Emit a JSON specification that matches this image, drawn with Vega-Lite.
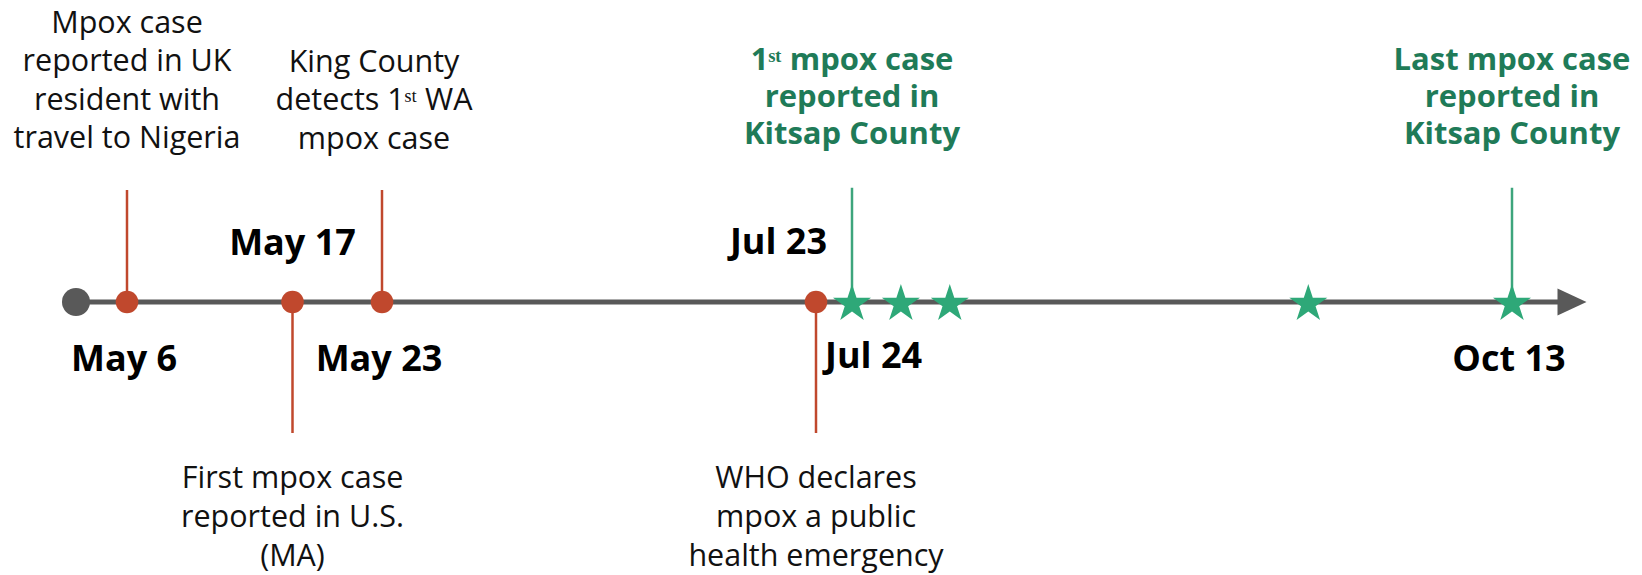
{
  "$schema": "https://vega.github.io/schema/vega-lite/v6.json",
  "width": 1642,
  "height": 575,
  "padding": 0,
  "autosize": {"type": "none"},
  "background": "white",
  "config": {"view": {"stroke": null}, "text": {"font": "Open Sans"}},
  "datasets": {
    "timeline": [
      {"date": "2022-05-01", "part": "start"},
      {"date": "2022-10-21", "part": "end"}
    ],
    "events": [
      {"date": "2022-05-06", "label": "May 6", "side": "above", "group": "world", "event": "Mpox case\nreported in UK\nresident with\ntravel to Nigeria"},
      {"date": "2022-05-17", "label": "May 17", "side": "below", "group": "world", "event": "First mpox case\nreported in U.S.\n(MA)"},
      {"date": "2022-05-23", "label": "May 23", "side": "above", "group": "world", "event": "King County\ndetects 1ˢᵗ WA\nmpox case"},
      {"date": "2022-07-23", "label": "Jul 23", "side": "below", "group": "world", "event": "WHO declares\nmpox a public\nhealth emergency"},
      {"date": "2022-07-24", "label": "Jul 24", "side": "above", "group": "kitsap", "event": "1ˢᵗ mpox case\nreported in\nKitsap County"},
      {"date": "2022-10-13", "label": "Oct 13", "side": "above", "group": "kitsap", "event": "Last mpox case\nreported in\nKitsap County"}
    ],
    "cases": [
      {"date": "2022-07-24"},
      {"date": "2022-07-30"},
      {"date": "2022-08-05"},
      {"date": "2022-09-18"},
      {"date": "2022-10-13"}
    ]
  },
  "encoding": {
    "x": {
      "field": "date",
      "type": "quantitative",
      "axis": null,
      "scale": {
        "type": "linear",
        "zero": false,
        "nice": false,
        "domain": [1651363200000, 1651795200000, 1652745600000, 1653264000000, 1658534400000, 1658620800000, 1665619200000, 1666310400000],
        "range": [76, 127, 292.5, 382, 816, 852, 1512, 1572]
      }
    }
  },
  "layer": [
    {
      "data": {"name": "timeline", "format": {"parse": {"date": "date"}}},
      "mark": {"type": "line", "color": "#595959", "strokeWidth": 5},
      "encoding": {
        "y": {"datum": 0, "type": "quantitative", "axis": null, "scale": {"domain": [-1, 0, 1], "range": [433, 302, 190]}}
      }
    },
    {
      "data": {"name": "events", "format": {"parse": {"date": "date"}}},
      "transform": [{"filter": "datum.side == 'above' && datum.group == 'world'"}],
      "mark": {"type": "rule", "color": "#C0482D", "strokeWidth": 2.5},
      "encoding": {
        "y": {"datum": 0, "type": "quantitative", "axis": null},
        "y2": {"datum": 1}
      }
    },
    {
      "data": {"name": "events", "format": {"parse": {"date": "date"}}},
      "transform": [{"filter": "datum.side == 'below'"}],
      "mark": {"type": "rule", "color": "#C0482D", "strokeWidth": 2.5},
      "encoding": {
        "y": {"datum": 0, "type": "quantitative", "axis": null},
        "y2": {"datum": -1}
      }
    },
    {
      "data": {"name": "events", "format": {"parse": {"date": "date"}}},
      "transform": [{"filter": "datum.group == 'kitsap'"}],
      "mark": {"type": "rule", "color": "#3DA57C", "strokeWidth": 2.5},
      "encoding": {
        "y": {"datum": 0, "type": "quantitative", "axis": null},
        "y2": {"datum": 1.02}
      }
    },
    {
      "data": {"name": "timeline", "format": {"parse": {"date": "date"}}},
      "transform": [{"filter": "datum.part == 'start'"}],
      "mark": {"type": "point", "shape": "circle", "filled": true, "opacity": 1, "color": "#595959", "size": 784},
      "encoding": {"y": {"datum": 0, "type": "quantitative", "axis": null}}
    },
    {
      "data": {"name": "timeline", "format": {"parse": {"date": "date"}}},
      "transform": [{"filter": "datum.part == 'end'"}],
      "mark": {"type": "point", "shape": "M-1,-0.93L1,0L-1,0.93Z", "filled": true, "opacity": 1, "color": "#595959", "size": 841},
      "encoding": {"y": {"datum": 0, "type": "quantitative", "axis": null}}
    },
    {
      "data": {"name": "events", "format": {"parse": {"date": "date"}}},
      "transform": [{"filter": "datum.group == 'world'"}],
      "mark": {"type": "point", "shape": "circle", "filled": true, "opacity": 1, "color": "#C0482D", "size": 510},
      "encoding": {"y": {"datum": 0, "type": "quantitative", "axis": null}}
    },
    {
      "data": {"name": "cases", "format": {"parse": {"date": "date"}}},
      "mark": {"type": "point", "shape": "M0,-0.905L0.225,-0.214L0.951,-0.214L0.363,0.213L0.588,0.904L0,0.477L-0.588,0.904L-0.363,0.213L-0.951,-0.214L-0.225,-0.214Z", "filled": true, "opacity": 1, "color": "#2EA878", "size": 1600},
      "encoding": {"y": {"datum": 0, "type": "quantitative", "axis": null}}
    },
    {
      "data": {"name": "events", "format": {"parse": {"date": "date"}}},
      "transform": [{"filter": "datum.label == 'May 6'"}],
      "mark": {"type": "text", "align": "center", "baseline": "alphabetic", "dy": -157, "fontSize": 30.5, "lineHeight": 38.3, "lineBreak": "\n", "color": "#111111"},
      "encoding": {
        "y": {"datum": 1, "type": "quantitative", "axis": null},
        "text": {"field": "event"}
      }
    },
    {
      "data": {"name": "events", "format": {"parse": {"date": "date"}}},
      "transform": [{"filter": "datum.label == 'May 23'"}],
      "mark": {"type": "text", "align": "center", "baseline": "alphabetic", "dx": -8, "dy": -118, "fontSize": 30.5, "lineHeight": 38.3, "lineBreak": "\n", "color": "#111111"},
      "encoding": {
        "y": {"datum": 1, "type": "quantitative", "axis": null},
        "text": {"field": "event"}
      }
    },
    {
      "data": {"name": "events", "format": {"parse": {"date": "date"}}},
      "transform": [{"filter": "datum.group == 'kitsap'"}],
      "mark": {"type": "text", "align": "center", "baseline": "alphabetic", "dy": -120, "fontSize": 31, "fontWeight": "bold", "lineHeight": 37, "lineBreak": "\n", "color": "#1F7B58"},
      "encoding": {
        "y": {"datum": 1, "type": "quantitative", "axis": null},
        "text": {"field": "event"}
      }
    },
    {
      "data": {"name": "events", "format": {"parse": {"date": "date"}}},
      "transform": [{"filter": "datum.side == 'below'"}],
      "mark": {"type": "text", "align": "center", "baseline": "alphabetic", "dy": 55, "fontSize": 30.5, "lineHeight": 39, "lineBreak": "\n", "color": "#111111"},
      "encoding": {
        "y": {"datum": -1, "type": "quantitative", "axis": null},
        "text": {"field": "event"}
      }
    },
    {
      "data": {"name": "events", "format": {"parse": {"date": "date"}}},
      "transform": [{"filter": "datum.side == 'above' && datum.label != 'Jul 24'"}],
      "mark": {"type": "text", "align": "center", "baseline": "alphabetic", "dx": -3, "dy": 69, "fontSize": 36, "fontWeight": "bold", "color": "#000000"},
      "encoding": {
        "y": {"datum": 0, "type": "quantitative", "axis": null},
        "text": {"field": "label"}
      }
    },
    {
      "data": {"name": "events", "format": {"parse": {"date": "date"}}},
      "transform": [{"filter": "datum.label == 'Jul 24'"}],
      "mark": {"type": "text", "align": "left", "baseline": "alphabetic", "dx": -27, "dy": 66, "fontSize": 36, "fontWeight": "bold", "color": "#000000"},
      "encoding": {
        "y": {"datum": 0, "type": "quantitative", "axis": null},
        "text": {"field": "label"}
      }
    },
    {
      "data": {"name": "events", "format": {"parse": {"date": "date"}}},
      "transform": [{"filter": "datum.side == 'below' && datum.label != 'Jul 23'"}],
      "mark": {"type": "text", "align": "center", "baseline": "alphabetic", "dy": -47, "fontSize": 36, "fontWeight": "bold", "color": "#000000"},
      "encoding": {
        "y": {"datum": 0, "type": "quantitative", "axis": null},
        "text": {"field": "label"}
      }
    },
    {
      "data": {"name": "events", "format": {"parse": {"date": "date"}}},
      "transform": [{"filter": "datum.label == 'Jul 23'"}],
      "mark": {"type": "text", "align": "right", "baseline": "alphabetic", "dx": 11, "dy": -48, "fontSize": 36, "fontWeight": "bold", "color": "#000000"},
      "encoding": {
        "y": {"datum": 0, "type": "quantitative", "axis": null},
        "text": {"field": "label"}
      }
    }
  ]
}
